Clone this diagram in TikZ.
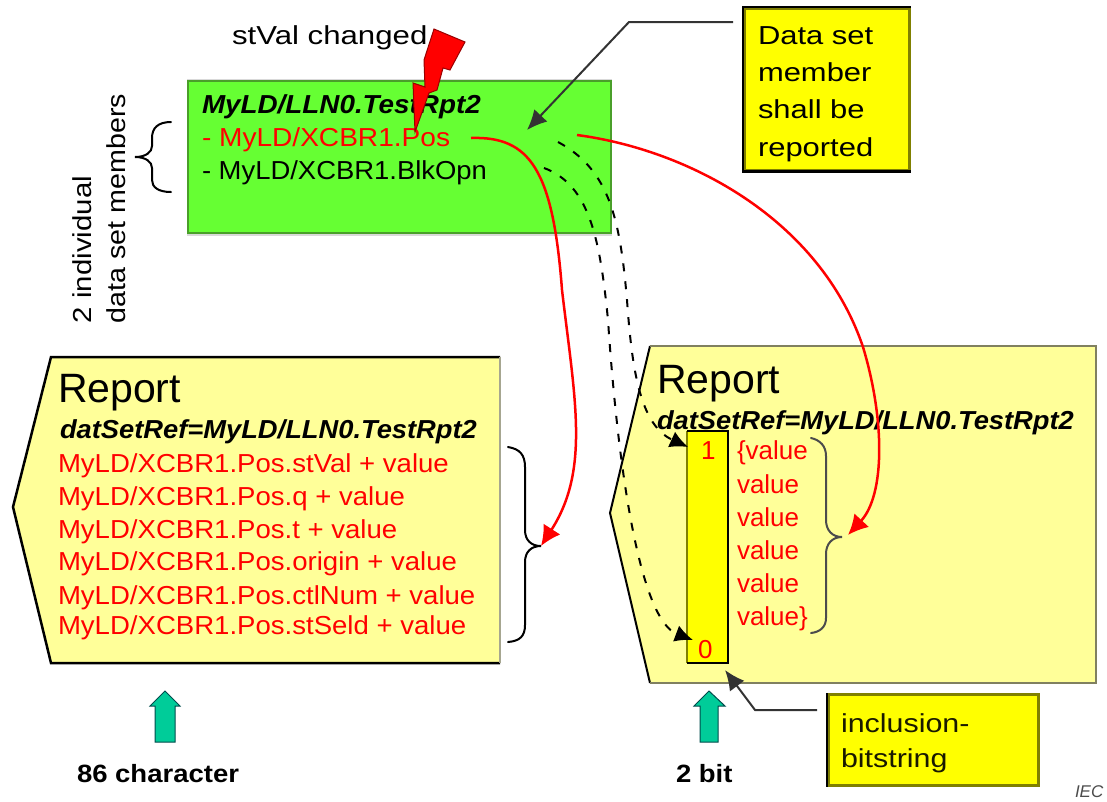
\documentclass[tikz,border=0pt]{standalone}
\usepackage{fontspec}
\setmainfont{Liberation Sans}
\usetikzlibrary{arrows.meta}
\definecolor{repfill}{HTML}{FFFF99}
\definecolor{grn}{HTML}{66FF33}
\definecolor{grnedge}{HTML}{4A9F2A}
\definecolor{olv}{HTML}{808000}
\definecolor{gryolv}{HTML}{808060}
\definecolor{teal2}{HTML}{00CC99}
\definecolor{ylw}{RGB}{255,255,0}
\definecolor{rd}{RGB}{255,0,0}
\newcommand{\strch}[1]{\addfontfeatures{FakeStretch=#1}}
\newcommand{\szf}{\fontsize{26}{30}\selectfont}
\tikzset{
  x=1pt,y=-1pt,
  txt/.style={anchor=base west,inner sep=0pt,outer sep=0pt,font=\szf},
  redtxt/.style={txt,text=rd},
  bigtxt/.style={txt,font=\fontsize{41}{48}\selectfont},
  upgreen/.style={draw=teal!60!black,line width=1pt,fill=teal2},
  brc/.style={draw=black,line width=2pt,line cap=round},
  redarr/.style={draw=rd,line width=2.5pt,-{Latex[length=20pt,width=20pt]}},
  blkarr/.style={draw=black!80,line width=2pt,-{Latex[length=20pt,width=18pt]}},
  dasharr/.style={draw=black,line width=2pt,dash pattern=on 8pt off 10pt,-{Latex[length=18pt,width=17pt]}},
  notebox/.style={draw=olv,fill=ylw,line width=2.5pt,anchor=north west,inner sep=0pt},
}
\begin{document}
\begin{tikzpicture}
\useasboundingbox (0,0) rectangle (1107,801);
% green data set box
\fill[black!15] (187,79) rectangle (612,236);
\draw[fill=grn,draw=grnedge,line width=2.5pt] (188,81) rectangle (611,233);
\node[txt,font=\szf\bfseries\itshape\strch{1.07}] (dsname) at (202,113) {MyLD/LLN0.TestRpt2};
\node[redtxt,font=\szf\strch{1.08}] (dspos) at (202,146) {- MyLD/XCBR1.Pos};
\node[txt,font=\szf\strch{1.055}] (dsblk) at (202,179) {- MyLD/XCBR1.BlkOpn};
\node[txt,font=\szf\strch{1.2}] (stval) at (232,44) {stVal changed};
% lightning
\fill[rd,draw=rd!60!black,line width=1pt] (434,29) -- (465,42) -- (450,70) -- (443,68) -- (437,90) -- (429,93) -- (415,132) -- (413,83) -- (425,87) -- (424,60) -- cycle;
% yellow note
\node[notebox,minimum width=165pt,minimum height=162pt] (note) at (743,7) {};
\draw[black,line width=2.5pt] (note.north east) -- (note.north west) -- (note.south west) -- (note.south east);
\node[txt,font=\szf\strch{1.19}] (n1) at (758,44) {Data set};
\node[txt,font=\szf\strch{1.19}] (n2) at (758,81) {member};
\node[txt,font=\szf\strch{1.19}] (n3) at (758,118) {shall be};
\node[txt,font=\szf\strch{1.19}] (n4) at (758,156) {reported};
% side labels
\node[txt,rotate=90,font=\szf\strch{1.13}] (ind1) at (91,323) {2 individual};
\node[txt,rotate=90,font=\szf\strch{1.1}] (ind2) at (125,323) {data set members};
% brace at data set
\draw[brc] (171,122) .. controls (158,122) and (152,128) .. (152,138) -- (152,146) .. controls (152,152) and (146,157) .. (135,157) .. controls (146,157) and (152,162) .. (152,168) -- (152,180) .. controls (152,187) and (158,192) .. (171,192);
% left report
\fill[repfill] (13,507) -- (51,357) -- (500,357) -- (500,663) -- (51,663) -- cycle;
\draw[black,line width=2.5pt] (500,357) -- (51,357) -- (13,507) -- (51,663) -- (500,663);
\draw[gryolv!70,line width=2.5pt] (500,357) -- (500,663);
\node[bigtxt] (rep1) at (58,402) {Report};
\node[txt,font=\szf\bfseries\itshape\strch{1.05}] (dsr1) at (60,438) {datSetRef=MyLD/LLN0.TestRpt2};
\node[redtxt,font=\szf\strch{1.06}] (l1) at (58,472) {MyLD/XCBR1.Pos.stVal + value};
\node[redtxt,font=\szf\strch{1.06}] (l2) at (58,505) {MyLD/XCBR1.Pos.q + value};
\node[redtxt,font=\szf\strch{1.06}] (l3) at (58,538) {MyLD/XCBR1.Pos.t + value};
\node[redtxt,font=\szf\strch{1.06}] (l4) at (58,570) {MyLD/XCBR1.Pos.origin + value};
\node[redtxt,font=\szf\strch{1.06}] (l5) at (58,604) {MyLD/XCBR1.Pos.ctlNum + value};
\node[redtxt,font=\szf\strch{1.06}] (l6) at (58,634) {MyLD/XCBR1.Pos.stSeld + value};
\draw[brc] (508,447) .. controls (520,449) and (525,455) .. (525,467) -- (525,530) .. controls (525,540) and (531,546) .. (541,546) .. controls (531,546) and (525,552) .. (525,562) -- (525,625) .. controls (525,636) and (520,641) .. (508,642);
\coordinate (leftbr) at (541,546);
% right report
\fill[repfill] (610,513) -- (650,346) -- (1096,346) -- (1096,683) -- (650,683) -- cycle;
\draw[black,line width=2pt] (650,346) -- (610,513) -- (650,683);
\draw[gryolv,line width=2.5pt] (650,346) -- (1096,346) -- (1096,683) -- (650,683);
\node[bigtxt] (rep2) at (657,393) {Report};
% bitstring
\fill[ylw] (687,431) rectangle (728,663);
\draw[olv,line width=2.5pt] (687,663) -- (687,431);
\draw[black,line width=2.5pt] (687,431) -- (728,431) -- (728,663) -- (687,663);
\node[txt,font=\szf\bfseries\itshape\strch{1.05}] (dsr2) at (657,429) {datSetRef=MyLD/LLN0.TestRpt2};
\node[redtxt] (b1) at (701,459) {1};
\node[redtxt] (b0) at (698,658) {0};
\node[redtxt] (v1) at (737,459) {\{value};
\node[redtxt] (v2) at (737,493) {value};
\node[redtxt] (v3) at (737,526) {value};
\node[redtxt] (v4) at (737,559) {value};
\node[redtxt] (v5) at (737,592) {value};
\node[redtxt] (v6) at (737,625) {value\}};
\draw[brc,draw=black!70] (811,438) .. controls (820,440) and (826,446) .. (826,456) -- (826,520) .. controls (826,530) and (832,537) .. (842,537) .. controls (832,537) and (826,544) .. (826,554) -- (826,618) .. controls (826,627) and (820,632) .. (811,633);
% inclusion note
\node[notebox,minimum width=210pt,minimum height=91pt] (incl) at (827,693) {};
\draw[black,line width=2pt] (incl.north west) -- (incl.south west);
\node[txt,text=black!80!olv,font=\szf\strch{1.17}] (i1) at (841,732) {inclusion-};
\node[txt,text=black!80!olv,font=\szf\strch{1.17}] (i2) at (841,767) {bitstring};
% green up arrows
\fill[upgreen] (165,691) -- (180,706) -- (175,706) -- (175,742) -- (155,742) -- (155,706) -- (150,706) -- cycle;
\fill[upgreen] (709,691) -- (725,706) -- (718,706) -- (718,742) -- (700,742) -- (700,706) -- (694,706) -- cycle;
\node[txt,font=\fontsize{25}{28}\selectfont\bfseries\strch{1.1}] (c86) at (77,782) {86 character};
\node[txt,font=\fontsize{25}{28}\selectfont\bfseries\strch{1.1}] (c2) at (676,782) {2 bit};
\node[txt,font=\fontsize{17}{20}\selectfont\itshape,text=black!70] (iec) at (1075,797) {IEC};
% connectors
\coordinate (posend) at (471,138);
\coordinate (dsmid) at (577,135);
\coordinate (rightbr) at (848,535);
\coordinate (rightpass) at (863,347);
\coordinate (d1s) at (558,142);
\coordinate (d2s) at (544,168);
\coordinate (bit1) at (688,447);
\coordinate (bit0) at (693,640);
\coordinate (hit) at (527,130);
\coordinate (elb) at (629,22);
\coordinate (elb2) at (755,710);
\coordinate (bithit) at (725,670);
\coordinate (inclL) at (817,710);
\coordinate (noteL) at (733,22);
\draw[redarr] (posend) .. controls (530,136) and (553,170) .. (562,290) .. controls (575,400) and (590,470) .. (leftbr);
\draw[redarr] (dsmid) .. controls (690,150) and (820,220) .. (rightpass) .. controls (885,420) and (885,495) .. (rightbr);
\draw[dasharr] (d1s) .. controls (610,170) and (620,220) .. (627,300) .. controls (632,370) and (640,425) .. (bit1);
\draw[dasharr] (d2s) .. controls (590,185) and (600,240) .. (608,320) .. controls (618,470) and (640,620) .. (bit0);
\draw[blkarr] (noteL) -- (elb) -- (hit);
\draw[blkarr] (inclL) -- (elb2) -- (bithit);
\end{tikzpicture}
\end{document}
